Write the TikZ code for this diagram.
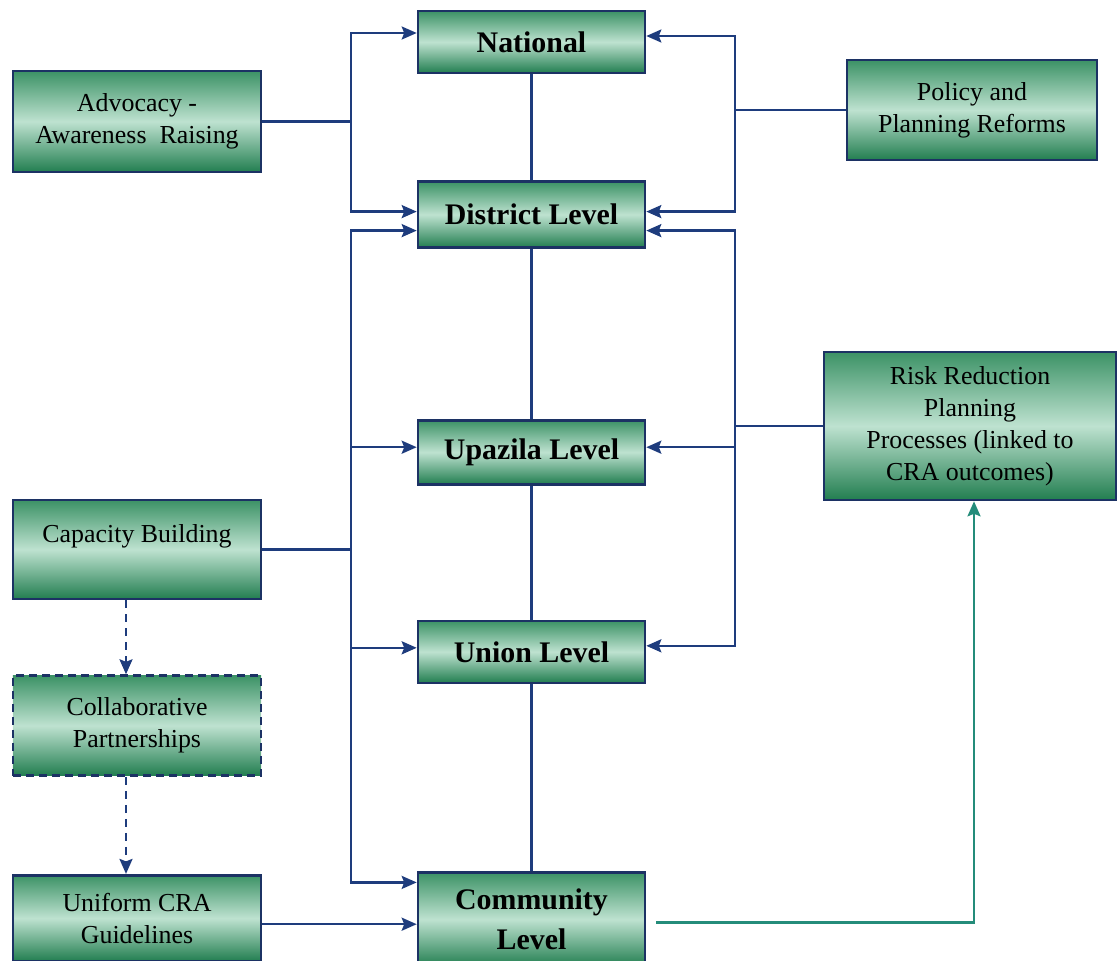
\documentclass[tikz,border=0pt]{standalone}
\usepackage{fontspec}
\setmainfont{Liberation Serif}
\usetikzlibrary{positioning}
\usetikzlibrary{arrows.meta}
\definecolor{boxline}{RGB}{28,50,100}
\definecolor{wire}{RGB}{30,60,125}
\definecolor{boxtop}{RGB}{60,146,102}
\definecolor{boxmid}{RGB}{190,226,208}
\definecolor{boxdark}{RGB}{34,126,80}
\definecolor{tealwire}{RGB}{36,140,122}

\begin{document}
\begin{tikzpicture}[x=1bp,y=-1bp,>={Stealth[length=15bp,width=13bp,inset=2.5bp]},
                link/.style={draw=wire,line width=2.4bp},
                box/.style={rectangle,draw=boxline,line width=2.6bp,top color=boxtop,
                  bottom color=boxdark,middle color=boxmid,inner sep=0pt,align=center,text=black},
                level node/.style={box,minimum width=227bp,font=\fontsize{30}{40}\selectfont\bfseries},
                side node/.style={box,minimum width=248bp,font=\fontsize{26}{32}\selectfont}]

  \useasboundingbox (0,0) rectangle (1118,961);

  \node[level node,minimum height=62bp] (nat) at (531.5,42) {National};
  \node[level node,minimum height=66bp] (dist) [below=106bp of nat] {District Level};
  \node[level node,minimum height=64bp] (upa) [below=170bp of dist] {Upazila Level};
  \node[level node,minimum height=62bp] (uni) [below=134bp of upa] {Union Level};
  \node[level node,minimum height=94bp] (com) [below=187bp of uni] {Community\\Level};

  \node[side node,minimum height=101bp] (adv) at (137,121.5) {Advocacy -\\Awareness~~Raising};
  \node[side node,minimum width=250bp,minimum height=100bp] (pol) at (972,110) {Policy and\\Planning Reforms};
  \node[side node,minimum width=292bp,minimum height=148bp] (risk) at (970,426)
    {Risk Reduction\\Planning\\Processes (linked to\\CRA outcomes)};
  \node[side node,minimum height=99bp] (cap) at (137,549.5) {Capacity Building\\\mbox{}};
  \node[side node,minimum height=100bp,dash pattern=on 8bp off 5bp] (col) [below=74bp of cap] {Collaborative\\Partnerships};
  \node[side node,minimum height=86bp] (guide) [below=97bp of col] {Uniform CRA\\Guidelines};

  % buses and arrow ends
  \coordinate (lbus) at (351,0);
  \coordinate (rbus) at (735,0);
  \coordinate (natL) at ([yshift=9bp]nat.west);
  \coordinate (natR) at ([yshift=6bp]nat.east);
  \coordinate (distL1) at ([yshift=3bp]dist.west);
  \coordinate (distR1) at ([yshift=3bp]dist.east);
  \coordinate (distL2) at ([yshift=-16bp]dist.west);
  \coordinate (distR2) at ([yshift=-16bp]dist.east);
  \coordinate (upaL) at ([yshift=5bp]upa.west);
  \coordinate (upaR) at ([yshift=5bp]upa.east);
  \coordinate (uniL) at ([yshift=4bp]uni.west);
  \coordinate (uniR) at ([yshift=6bp]uni.east);
  \coordinate (comL) at ([yshift=37bp]com.west);

  \draw[link] (nat) -- (dist);
  \draw[link] (dist) -- (upa);
  \draw[link] (upa) -- (uni);
  \draw[link] (uni) -- (com);

  \draw[link] (adv.east) -- (adv.east -| lbus);
  \draw[link,->] (adv.east -| lbus) |- (natL);
  \draw[link,->] (adv.east -| lbus) |- (distL1);

  \draw[link] (cap.east) -- (cap.east -| lbus);
  \draw[link,->] (cap.east -| lbus) |- (distL2);
  \draw[link,->] (cap.east -| lbus) |- (comL);
  \foreach \t in {upaL,uniL}
    \draw[link,->] (lbus |- \t) -- (\t);

  \draw[link] (pol.west) -- (pol.west -| rbus);
  \draw[link,->] (pol.west -| rbus) |- (natR);
  \draw[link,->] (pol.west -| rbus) |- (distR1);

  \draw[link] (risk.west) -- (risk.west -| rbus);
  \draw[link,->] (risk.west -| rbus) |- (distR2);
  \draw[link,->] (risk.west -| rbus) |- (uniR);
  \draw[link,->] (rbus |- upaR) -- (upaR);

  \draw[link,->] ([yshift=-6bp]guide.east) -- ([yshift=-6bp]guide.east -| com.west);

  \draw[link,->,dash pattern=on 8bp off 6bp] ([xshift=-11bp]cap.south) -- ([xshift=-11bp]col.north);
  \draw[link,->,dash pattern=on 8bp off 6bp] ([xshift=-11bp]col.south) -- ([xshift=-11bp]guide.north);

  \draw[link,draw=tealwire,->] ([xshift=10bp,yshift=-3bp]com.east) -| ([xshift=4bp]risk.south);
\end{tikzpicture}
\end{document}
